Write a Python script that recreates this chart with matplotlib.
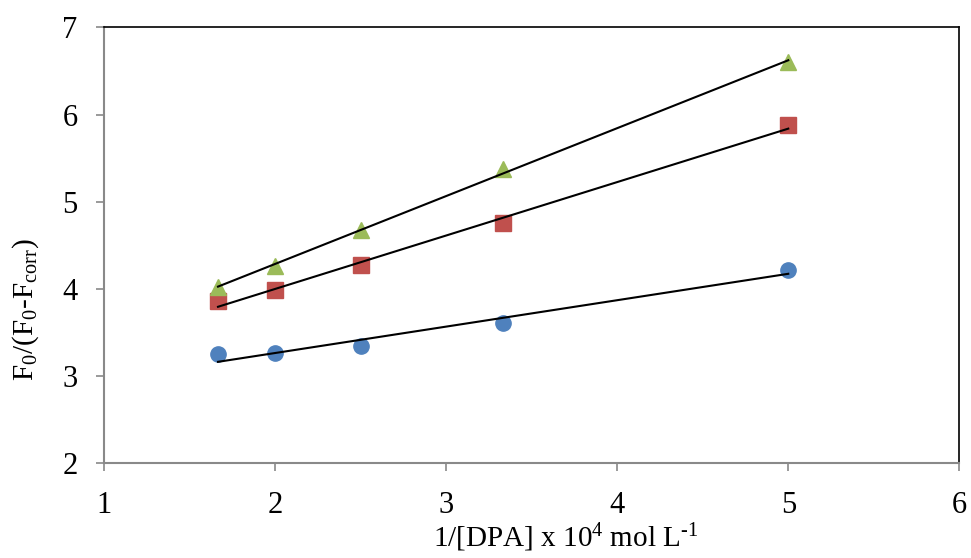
import numpy as np
import matplotlib
matplotlib.use('Agg')
import matplotlib.pyplot as plt

plt.rcParams['font.family'] = 'Liberation Serif'
plt.rcParams['mathtext.fontset'] = 'custom'
plt.rcParams['mathtext.rm'] = 'Liberation Serif'
plt.rcParams['mathtext.it'] = 'Liberation Serif:italic'

# 1/[DPA] x 10^4
x = [1.667, 2.0, 2.5, 3.333, 5.0]
y_circle = [3.25, 3.26, 3.34, 3.61, 4.22]
y_square = [3.86, 3.99, 4.27, 4.75, 5.88]
y_triangle = [4.02, 4.26, 4.68, 5.37, 6.60]

series = [
    (y_circle, 'o', '#4F81BD'),
    (y_square, 's', '#C0504D'),
    (y_triangle, '^', '#9BBB59'),
]

fig = plt.figure(figsize=(9.71, 5.58), dpi=100)
ax = fig.add_axes([0.107, 0.170, 0.881, 0.781])

xs = np.array(x)
for ys, m, c in series:
    ax.plot(xs, ys, m, color=c, markersize=11, linestyle='none', zorder=2)
    # linear trend line over the data range
    k, b = np.polyfit(xs, ys, 1)
    ax.plot([xs[0], xs[-1]], [k * xs[0] + b, k * xs[-1] + b], color='black', lw=1.5, zorder=3)

ax.set_xlim(1, 6)
ax.set_ylim(2, 7)
ax.set_xticks([1, 2, 3, 4, 5, 6])
ax.set_yticks([2, 3, 4, 5, 6, 7])

for side in ['left', 'bottom']:
    ax.spines[side].set_color('#898989')
    ax.spines[side].set_linewidth(1.5)
for side in ['top', 'right']:
    ax.spines[side].set_color('black')
    ax.spines[side].set_linewidth(1.2)

ax.tick_params(axis='both', direction='out', length=6, width=1.2, color='#898989',
               labelsize=22)
ax.tick_params(axis='x', pad=14)
ax.tick_params(axis='y', pad=13)

ax.set_xlabel('1/[DPA] x 10$^{4}$ mol L$^{\\text{-}1}$', fontsize=21)
ax.set_ylabel('F$_{0}$/(F$_{0}$-F$_{\\mathrm{corr}}$)', fontsize=21)
ax.xaxis.set_label_coords(0.540, -0.135)
ax.yaxis.set_label_coords(-0.073, 0.353)

fig.savefig('out.png', dpi=100)
